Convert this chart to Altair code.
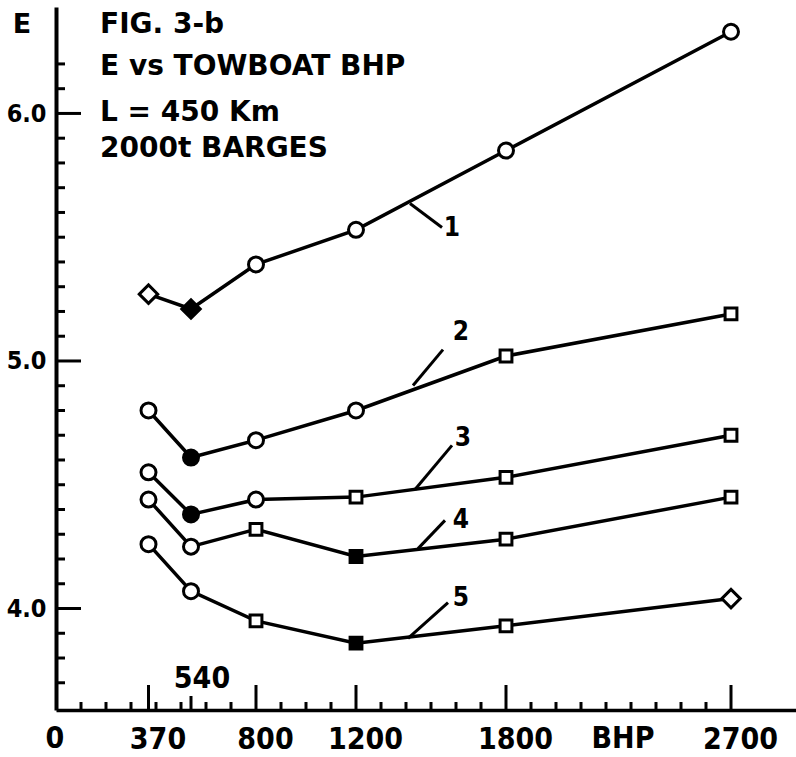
import altair as alt
import pandas as pd

# Towboat power (BHP) at which each curve was evaluated
bhp = [370, 540, 800, 1200, 1800, 2700]

# E values, one list per curve
e_curve1 = [5.27, 5.21, 5.39, 5.53, 5.85, 6.33]
e_curve2 = [4.80, 4.61, 4.68, 4.80, 5.02, 5.19]
e_curve3 = [4.55, 4.38, 4.44, 4.45, 4.53, 4.70]
e_curve4 = [4.44, 4.25, 4.32, 4.21, 4.28, 4.45]
e_curve5 = [4.26, 4.07, 3.95, 3.86, 3.93, 4.04]

# Point symbols per curve ("-f" = filled)
sym_curve1 = ["diamond", "diamond-f", "circle", "circle", "circle", "circle"]
sym_curve2 = ["circle", "circle-f", "circle", "circle", "square", "square"]
sym_curve3 = ["circle", "circle-f", "circle", "square", "square", "square"]
sym_curve4 = ["circle", "circle", "square", "square-f", "square", "square"]
sym_curve5 = ["circle", "circle", "square", "square-f", "square", "diamond"]

# Curve numbers and their leader lines
curve_names = ["1", "2", "3", "4", "5"]
name_bhp = [1584, 1620, 1628, 1620, 1620]
name_e = [5.539, 5.119, 4.687, 4.356, 4.044]
leader_from_bhp = [1416, 1428, 1436, 1448, 1408]
leader_from_e = [5.636, 4.901, 4.481, 4.242, 3.879]
leader_to_bhp = [1544, 1548, 1584, 1556, 1568]
leader_to_e = [5.539, 5.046, 4.659, 4.356, 4.024]

# Axis tick values
x_label_values = [370, 800, 1200, 1800, 2700]
x_major_ticks = [370, 800, 1200, 1800, 2700]
x_mid_ticks = [540]
x_minor_ticks = [100, 200, 300, 400, 500, 600, 700, 900, 1000, 1100, 1300,
                 1400, 1500, 1600, 1700, 1900, 2000, 2100, 2200, 2300, 2400,
                 2500, 2600]
y_label_values = [4.0, 5.0, 6.0]
y_minor_ticks = [3.7, 3.8, 3.9, 4.1, 4.2, 4.3, 4.4, 4.5, 4.6, 4.7, 4.8, 4.9,
                 5.1, 5.2, 5.3, 5.4, 5.5, 5.6, 5.7, 5.8, 5.9, 6.1, 6.2]

title_lines = ["FIG. 3-b", "E vs TOWBOAT BHP", "L = 450 Km", "2000t BARGES"]

FONT = "DejaVu Sans Condensed"
TITLE_FONT = "DejaVu Sans"
W, H = 740, 703
SYMBOL_SIZE = {"circle": 225, "square": 140, "diamond": 340}

curves = [e_curve1, e_curve2, e_curve3, e_curve4, e_curve5]
symbols = [sym_curve1, sym_curve2, sym_curve3, sym_curve4, sym_curve5]
rows = []
for name, ev, sv in zip(curve_names, curves, symbols):
    for b, e, s in zip(bhp, ev, sv):
        shape = s.split("-")[0]
        rows.append({
            "curve": name, "bhp": b, "E": e, "shape": shape,
            "size": SYMBOL_SIZE[shape],
            "fill": "black" if s.endswith("-f") else "white",
        })
points = pd.DataFrame(rows)

leaders = pd.DataFrame({
    "x1": leader_from_bhp, "y1": leader_from_e,
    "x2": leader_to_bhp, "y2": leader_to_e,
})
names = pd.DataFrame({"name": curve_names, "bhp": name_bhp, "E": name_e})

# Inward y ticks, expressed in BHP units along the x scale (4 BHP per pixel)
y_tick_table = pd.DataFrame(
    [{"e": v, "t0": 0, "t1": 36} for v in y_minor_ticks]
    + [{"e": v, "t0": 0, "t1": 100} for v in y_label_values]
)

x_scale = alt.Scale(domain=[0, 2960], nice=False, zero=False)
y_scale = alt.Scale(domain=[3.59, 6.43], nice=False, zero=False)

x_axis = alt.Axis(
    values=x_label_values, format="d", title=None, ticks=False, tickSize=0,
    grid=False, labelFont=FONT, labelFontWeight="bold", labelFontSize=30,
    labelColor="black", labelPadding=38, labelBaseline="alphabetic",
    labelOffset=9, labelFlush=False, labelOverlap=False,
    domainColor="black", domainWidth=3.5,
)
y_axis = alt.Axis(
    values=y_label_values, format=".1f", title=None, ticks=False, tickSize=0,
    grid=False, labelFont=FONT, labelFontWeight="bold", labelFontSize=25,
    labelColor="black", labelPadding=10, labelBaseline="middle",
    domainColor="black", domainWidth=4,
)


def X(field):
    return alt.X(field, scale=x_scale, axis=x_axis)


def Y(field):
    return alt.Y(field, scale=y_scale, axis=y_axis)


lines = alt.Chart(points).mark_line(color="black", strokeWidth=3.5).encode(
    x=X("bhp:Q"), y=Y("E:Q"), detail="curve:N", order="bhp:Q",
)

marks = alt.Chart(points).mark_point(
    stroke="black", strokeWidth=3, opacity=1, filled=False
).encode(
    x=X("bhp:Q"), y=Y("E:Q"),
    shape=alt.Shape("shape:N", scale=None, legend=None),
    fill=alt.Fill("fill:N", scale=None, legend=None),
    size=alt.Size("size:Q", scale=None, legend=None),
)

leader_lines = alt.Chart(leaders).mark_rule(color="black", strokeWidth=3).encode(
    x=X("x1:Q"), y=Y("y1:Q"), x2="x2:Q", y2="y2:Q",
)

name_text = alt.Chart(names).mark_text(
    font=FONT, fontWeight="bold", fontSize=26, color="black",
    align="center", baseline="middle",
).encode(x=X("bhp:Q"), y=Y("E:Q"), text="name:N")

y_tick_marks = alt.Chart(y_tick_table).mark_rule(
    color="black", strokeWidth=3
).encode(x=X("t0:Q"), x2="t1:Q", y=Y("e:Q"), y2="e:Q")


# Upward-pointing tick marks on the BHP axis
def x_ticks(values, length, col):
    return alt.Chart(pd.DataFrame({col: values})).mark_rule(
        color="black", strokeWidth=3
    ).encode(x=X(f"{col}:Q"), y=alt.value(H), y2=alt.value(H - length))


tick_layers = [
    y_tick_marks,
    x_ticks(x_minor_ticks, 8, "bhp_minor"),
    x_ticks(x_mid_ticks, 14, "bhp_mid"),
    x_ticks(x_major_ticks, 25, "bhp_major"),
]


def label(text, x, y, size, align="left", font=FONT):
    return alt.Chart(pd.DataFrame({"t": [text]})).mark_text(
        font=font, fontWeight="bold", fontSize=size, color="black",
        align=align, baseline="alphabetic",
    ).encode(x=alt.value(x), y=alt.value(y), text="t:N")


title_baselines = [26, 68, 114, 150]
text_layers = [label(t, 44, b, 28, font=TITLE_FONT)
               for t, b in zip(title_lines, title_baselines)]
text_layers += [
    label("E", -34, 26, 27, "center", TITLE_FONT),
    label("0", -1, 741, 30, "center"),
    label("540", 146, 681, 30, "center"),
    label("BHP", 567, 741, 30, "center"),
]

chart = alt.layer(
    lines, *tick_layers, leader_lines, marks, name_text, *text_layers
).properties(
    width=W, height=H,
    padding={"left": 56, "top": 7, "right": 0, "bottom": 47},
    autosize=alt.AutoSizeParams(type="none"),
    background="white",
).configure_view(stroke=None)

chart.save("out.html", embed_options={"renderer": "svg", "actions": False})
